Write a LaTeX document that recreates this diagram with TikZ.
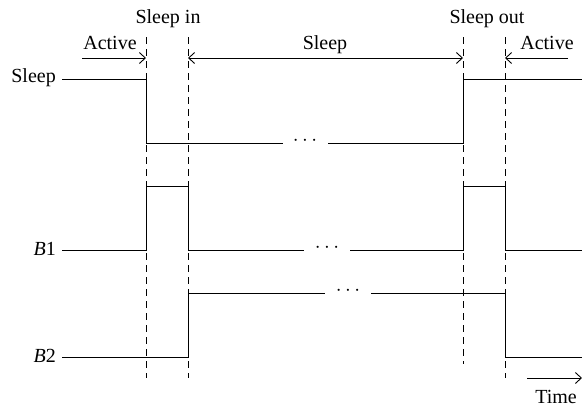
\documentclass[tikz,border=0pt]{standalone}
\usepackage{fontspec}
\setmainfont{Liberation Serif}
\usetikzlibrary{arrows.meta}
\begin{document}
\begin{tikzpicture}[x=1pt,y=-1pt,
  sig/.style={line width=1pt,line join=miter},
  guide/.style={line width=0.9pt,dash pattern=on 7pt off 5pt},
  marker/.style={line width=0.9pt},
  tip/.style={-{Straight Barb[length=6pt,width=11pt]}},
  lbl/.style={font=\fontsize{20}{24}\selectfont,inner sep=0pt,anchor=base},
  dotsl/.style={font=\fontsize{20}{24}\selectfont,inner sep=0pt}]
\useasboundingbox (0,0) rectangle (582,407);
% guide lines
\draw[guide] (146,37) -- (146,378);
\draw[guide] (188,37) -- (188,378);
\draw[guide] (463,37) -- (463,364);
\draw[guide] (505,37) -- (505,378);
% labels top
\node[lbl] (sin) at (168,23) {Sleep in};
\node[lbl] (sout) at (487,23) {Sleep out};
\node[lbl] (act1) at (110,49) {Active};
\node[lbl] (slp) at (325,49) {Sleep};
\node[lbl] (act2) at (547,49) {Active};
% arrows
\coordinate (a1s) at (82,58);
\coordinate (a1e) at (146,58);
\coordinate (s1) at (188,58);
\coordinate (s2) at (463,58);
\coordinate (a2s) at (568,58);
\coordinate (a2e) at (505,58);
\draw[marker,tip] (a1s) -- (a1e);
\draw[marker,{Straight Barb[length=6pt,width=11pt]}-{Straight Barb[length=6pt,width=11pt]}] (s1) -- (s2);
\draw[marker,tip] (a2s) -- (a2e);
% left labels
\node[lbl,anchor=base east] (lsleep) at (56,82) {Sleep};
\node[lbl,anchor=base east] (lb1) at (56,255) {\textit{B}1};
\node[lbl,anchor=base east] (lb2) at (56,362) {\textit{B}2};
% Sleep signal
\draw[sig] (62,79) -- (146,79) -- (146,143) -- (283,143);
\node[dotsl] (d1) at (305,141) {$\cdots$};
\draw[sig] (328,143) -- (463,143) -- (463,79) -- (582,79);
% B1 signal
\draw[sig] (62,250) -- (146,250) -- (146,186) -- (188,186) -- (188,250) -- (304,250);
\node[dotsl] (d2) at (327,248) {$\cdots$};
\draw[sig] (350,250) -- (463,250) -- (463,186) -- (505,186) -- (505,250) -- (582,250);
% B2 signal
\draw[sig] (62,357) -- (188,357) -- (188,293) -- (325,293);
\node[dotsl] (d3) at (348,291) {$\cdots$};
\draw[sig] (371,293) -- (505,293) -- (505,357) -- (582,357);
% time
\coordinate (t1) at (527,378);
\coordinate (t2) at (582,378);
\draw[marker,tip] (t1) -- (t2);
\node[lbl] (time) at (556,403) {Time};
\end{tikzpicture}
\end{document}
